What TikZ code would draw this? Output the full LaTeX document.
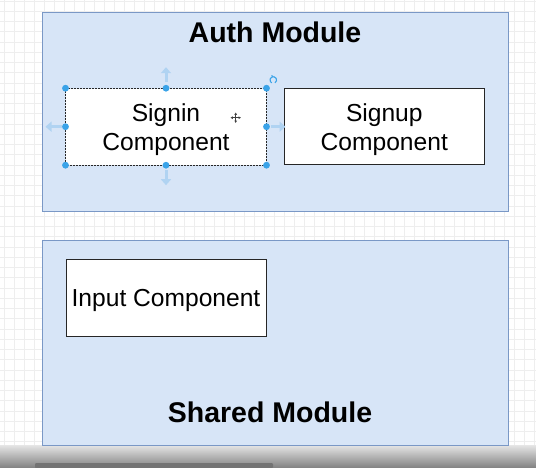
\documentclass[tikz,border=0pt]{standalone}
\usepackage{fontspec}
\setmainfont{Liberation Sans}
\definecolor{modfill}{HTML}{D7E5F7}
\definecolor{moddraw}{HTML}{7A98C6}
\definecolor{gridc}{HTML}{EEEEEE}
\definecolor{handle}{HTML}{3AA3E8}
\definecolor{ghost}{HTML}{B0D3F2}
\usetikzlibrary{arrows.meta}
\tikzset{
  module/.style={draw=moddraw, fill=modfill, line width=1pt},
  compbox/.style={draw=black!85, fill=white, line width=1pt, inner sep=0pt},
  comptext/.style={font=\fontsize{24.6}{29}\selectfont, align=center},
  titletext/.style={font=\fontsize{28.5}{34}\selectfont\bfseries},
  hdot/.style={fill=handle, draw=none},
  ghostarrow/.style={ghost, line width=3pt, -{Triangle[length=6pt,width=10pt]}},
}
\begin{document}
\begin{tikzpicture}[x=1pt,y=-1pt]
\useasboundingbox (0,0) rectangle (536,467);
% background + grid
\fill[white] (0,0) rectangle (536,467);
\foreach \gx in {4,14,...,534} \draw[gridc, line width=0.6pt] (\gx,0) -- (\gx,445);
\foreach \gy in {1,11.25,...,445} \draw[gridc, line width=0.6pt] (0,\gy) -- (536,\gy);
% bottom bar
\shade[top color=black!10, bottom color=black!48] (0,445) rectangle (536,467);
\fill[black!55, rounded corners=1pt] (35,463) rectangle (273,468);

% modules
\path[module] (42,12.7) rectangle (508.5,211.5);
\node[titletext] (authtitle) at (275,32) {Auth Module};

\path[module] (42,240.7) rectangle (508.5,445);
\node[titletext] (sharedtitle) at (270,412) {Shared Module};

% components
\node[compbox, minimum width=200pt, minimum height=76pt, draw=none] (signin) at (166,126.7) {};
\draw[black!85, line width=1pt, dash pattern=on 2pt off 1pt] (signin.north west) rectangle (signin.south east);
\node[comptext] (signintext) at ([yshift=-3pt]signin.center) {Signin\\Component};

\node[compbox, minimum width=200pt, minimum height=75.6pt] (signup) at (384.3,126.5) {};
\node[comptext] (signuptext) at ([yshift=-3pt]signup.center) {Signup\\Component};

\node[compbox, minimum width=200pt, minimum height=76.3pt] (input) at (166,297.9) {};
\node[comptext] (inputtext) at ([yshift=-3pt]input.center) {Input Component};

% selection handles
\foreach \a in {north west,north,north east,east,south east,south,south west,west}
  \fill[hdot] (signin.\a) circle (3.4pt);
\draw[ghostarrow] ([yshift=6pt]signin.north) -- ++(0,-15);
\draw[ghostarrow] ([yshift=-5pt]signin.south) -- ++(0,15);
\draw[ghostarrow] ([xshift=-4pt]signin.west) -- ++(-16,0);
\draw[ghostarrow] ([xshift=4pt]signin.east) -- ++(15,0);
% rotate icon
\draw[handle, line width=1.1pt] (273.3,80) ++(60:3.3) arc (60:-240:3.3);
\draw[handle, line width=1.1pt] (273.3,76.7) -- ++(-1.8,-1.2);
% move cursor
\coordinate (mv) at (235.7,117.7);
\draw[black!75, line width=1.2pt] ([xshift=-4pt]mv) -- ([xshift=4pt]mv) ([yshift=-4pt]mv) -- ([yshift=4pt]mv);
\foreach \ang in {0,90,180,270}
  \fill[black!75] (mv) ++(\ang:5.2) -- ++(\ang+150:2.6) -- ++(\ang-90:2.6) -- cycle;
\end{tikzpicture}
\end{document}
